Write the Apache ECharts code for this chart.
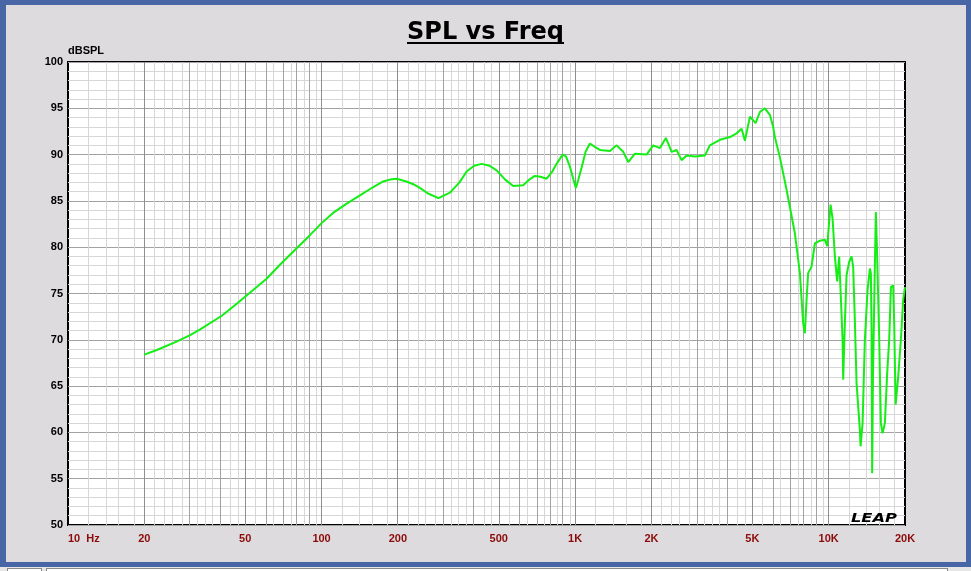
<!DOCTYPE html>
<html><head><meta charset="utf-8">
<script src="https://cdn.jsdelivr.net/npm/echarts@6/dist/echarts.min.js"></script>
<style>
html,body{margin:0;padding:0;background:#dddbdd;overflow:hidden;}
#chart{position:absolute;left:0;top:0;width:971px;height:571px;}
.bar{position:absolute;background:#4866a6;}
</style></head><body>
<div id="chart"></div>
<div class="bar" style="left:0;top:0;width:971px;height:5px"></div>
<div class="bar" style="left:0;top:0;width:6px;height:567px"></div>
<div class="bar" style="left:966px;top:0;width:5px;height:567px"></div>
<div class="bar" style="left:0;top:562px;width:971px;height:5px"></div>
<div style="position:absolute;left:0;top:567px;width:971px;height:4px;background:#e6e6e6"></div>
<div style="position:absolute;left:7px;top:568px;width:33px;height:3px;background:#fff;border:1px solid #888;border-bottom:none"></div>
<div style="position:absolute;left:46px;top:568px;width:900px;height:3px;background:#fff;border:1px solid #888;border-bottom:none"></div>
<script>
// ---- data ----
const freqHz = [
  20, 22.4, 26.8, 30.3, 33.1, 40.4, 44.9, 50.2, 55.5, 60.7,
  69.6, 80.5, 90, 100, 111, 125.6, 141.7, 160, 175, 186,
  198, 216, 230, 244, 263, 289, 321, 350, 374,
  400, 428, 460, 490, 530, 570, 624, 660, 694, 730,
  772, 810, 845, 893, 920, 954, 985, 1007, 1030, 1061,
  1100, 1144, 1200, 1253, 1372, 1458, 1548, 1620, 1721, 1914,
  2032, 2160, 2280, 2402, 2513, 2630, 2753, 2968, 3250, 3400,
  3724, 4078, 4334, 4535, 4674, 4892, 5150, 5355, 5603, 5862,
  6040, 6134, 6421, 6823, 7357, 7700, 7932, 8056, 8180, 8300,
  8561, 8823, 9234, 9661, 9865, 10174, 10360, 10580, 10802, 11000,
  11143, 11345, 11410, 11584, 11764, 12044, 12310, 12490, 12685, 12882,
  13274, 13360, 13606, 13892, 14238, 14540, 14670, 14764, 14842, 14950,
  15213, 15350, 15536, 15818, 16064, 16314, 16660, 17013, 17326, 17597,
  17966, 18132, 18363, 18803, 19267, 19670, 20000
];
const splDb = [
  68.4, 68.9, 69.8, 70.5, 71.1, 72.6, 73.6, 74.7, 75.7, 76.6,
  78.3, 80.0, 81.3, 82.6, 83.7, 84.7, 85.6, 86.5, 87.1, 87.3,
  87.4, 87.1, 86.8, 86.4, 85.8, 85.3, 85.9, 87.0, 88.2,
  88.8, 89.0, 88.8, 88.3, 87.3, 86.6, 86.7, 87.3, 87.7, 87.6,
  87.4, 88.1, 89.0, 90.0, 89.8, 88.7, 87.3, 86.4, 87.3, 88.6,
  90.3, 91.2, 90.8, 90.5, 90.4, 91.0, 90.3, 89.2, 90.1, 90.0,
  91.0, 90.7, 91.8, 90.3, 90.5, 89.4, 89.9, 89.8, 89.9, 91.0,
  91.6, 91.9, 92.3, 92.8, 91.5, 94.1, 93.4, 94.6, 95.0, 94.3,
  93.0, 91.9, 89.7, 86.2, 81.5, 77.2, 71.8, 70.7, 74.3, 77.2,
  77.9, 80.4, 80.7, 80.8, 80.1, 84.6, 83.1, 79.0, 76.3, 79.0,
  79.0, 70.0, 65.7, 71.8, 77.0, 78.4, 79.0, 77.9, 72.1, 65.3,
  60.3, 58.5, 61.0, 70.0, 75.4, 77.7, 77.2, 71.1, 55.6, 66.0,
  78.0, 83.8, 79.0, 70.3, 61.0, 59.9, 61.0, 66.4, 70.0, 75.7,
  75.9, 71.8, 63.0, 66.0, 70.0, 74.3, 75.7
];
const xTickValues = [20, 50, 100, 200, 500, 1000, 2000, 5000, 10000, 20000];
const xTickLabels = ['20', '50', '100', '200', '500', '1K', '2K', '5K', '10K', '20K'];
const xFirstLabel = '10  Hz';
const xMinHz = 10, xMaxHz = 20000;
const yMin = 50, yMax = 100, yStep = 5;
const decades = [10, 100, 1000, 10000];
const labeledMult = [1, 2, 5];
const integerMult = [3, 4, 6, 7, 8, 9];
const minorMult = [1.2, 1.4, 1.6, 1.8, 2.2, 2.4, 2.6, 2.8, 3.25, 3.5, 3.75, 4.33, 4.67, 5.5, 6.5, 7.5, 8.5, 9.5];

// ---- build ----
const L = Math.log10;
const curve = freqHz.map((f, i) => [L(f), splDb[i]]);
function gridLines(mults, color) {
  const out = [];
  decades.forEach(d => mults.forEach(m => {
    const f = d * m;
    if (f > xMinHz + 1e-6 && f < xMaxHz - 1e-6) out.push({ xAxis: L(f), lineStyle: { color: color, width: 1, type: 'solid' } });
  }));
  return out;
}
const vLines = [].concat(gridLines(minorMult, '#d6d6d6'), gridLines(integerMult, '#a2a2a2'), gridLines(labeledMult, '#8e8e8e'));

const chart = echarts.init(document.getElementById('chart'), null, { renderer: 'canvas' });
const labelFont = { fontFamily: '"Liberation Sans", Arial, sans-serif', fontWeight: 'bold', fontSize: 11 };
chart.setOption({
  animation: false,
  backgroundColor: '#dddbdd',
  title: {
    text: 'SPL vs Freq', left: 'center', top: 16,
    textStyle: { fontFamily: '"DejaVu Sans", sans-serif', fontWeight: 'bold', fontSize: 24, color: '#000' }
  },
  graphic: [
    { type: 'rect', left: 'center', top: 42, shape: { width: 157, height: 2 }, style: { fill: '#000' } },
    { type: 'text', x: 851, y: 512, scaleX: 1.25, style: { text: 'LEAP', font: 'italic 900 13px "DejaVu Sans"', fill: '#000' }, z: 100 }
  ],
  grid: { left: 68, top: 62, width: 837, height: 463, show: true, backgroundColor: '#ffffff', borderColor: '#000', borderWidth: 2, z: 0 },
  xAxis: [{
    type: 'value', min: L(xMinHz), max: L(xMaxHz),
    axisLine: { show: false }, axisTick: { show: false }, splitLine: { show: false },
    axisLabel: Object.assign({
      color: '#8c0a0a', margin: 8,
      customValues: xTickValues.map(L),
      formatter: v => { let b = 0; xTickValues.forEach((t, i) => { if (Math.abs(L(t) - v) < Math.abs(L(xTickValues[b]) - v)) b = i; }); return xTickLabels[b]; }
    }, labelFont)
  }, {
    type: 'value', min: L(xMinHz), max: L(xMaxHz), position: 'bottom',
    axisLine: { show: false }, axisTick: { show: false }, splitLine: { show: false },
    axisLabel: Object.assign({ color: '#8c0a0a', margin: 8, align: 'left', customValues: [L(xMinHz)], formatter: () => xFirstLabel }, labelFont)
  }],
  yAxis: {
    type: 'value', min: yMin, max: yMax, interval: yStep,
    name: 'dBSPL', nameLocation: 'end', nameGap: 4,
    nameTextStyle: Object.assign({ color: '#000', align: 'left', verticalAlign: 'bottom' }, labelFont),
    axisLine: { show: false }, axisTick: { show: false },
    axisLabel: Object.assign({ color: '#000', margin: 5 }, labelFont),
    splitLine: { show: true, lineStyle: { color: '#a2a2a2', width: 1 } },
    minorTick: { show: false, splitNumber: 5 },
    minorSplitLine: { show: true, lineStyle: { color: '#d6d6d6', width: 1 } }
  },
  series: [{
    type: 'line', data: [[L(xMinHz), yMin]], showSymbol: false, silent: true, z: 1,
    lineStyle: { width: 0 },
    markLine: { silent: true, symbol: ['none', 'none'], label: { show: false }, emphasis: { disabled: true }, animation: false, data: vLines }
  }, {
    type: 'line', data: curve, showSymbol: false, smooth: false, z: 5, silent: true,
    lineStyle: { color: '#14ee14', width: 2 }
  }]
});
</script>
</body></html>
